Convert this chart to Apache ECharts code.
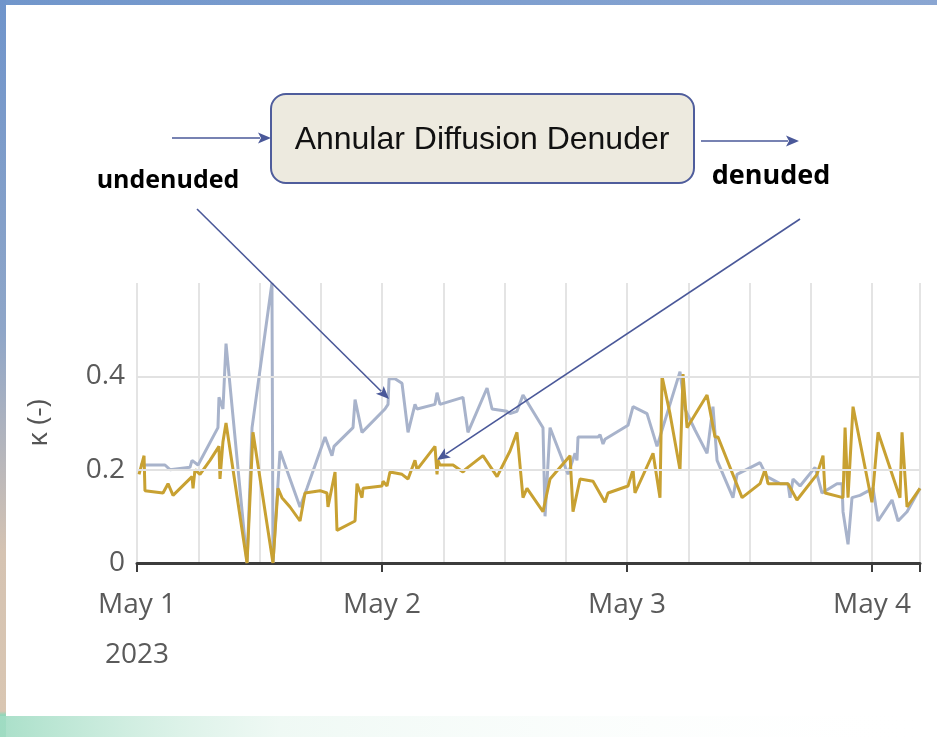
<!DOCTYPE html>
<html>
<head>
<meta charset="utf-8">
<script src="https://cdn.jsdelivr.net/npm/echarts@6/dist/echarts.min.js"></script>
<style>
  html, body { margin: 0; padding: 0; background: #ffffff; }
  #chart { width: 937px; height: 737px; }
</style>
</head>
<body>
<div id="chart"></div>
<script>
// Hours since 2023-05-01 00:00 and kappa values for each inlet.
const undenudedHours = [0.29, 2.74, 3.23, 5.19, 5.39, 5.98, 7.93, 8.03, 8.42, 8.72, 10.78, 11.27, 13.22, 13.32,
  14.01, 15.97, 16.65, 18.42, 19.10, 19.30, 21.16, 21.36, 22.04, 24.29, 24.59, 24.69, 25.27, 25.96, 26.55, 27.23,
  27.43, 29.19, 29.39, 29.68, 31.93, 32.42, 34.29, 34.78, 36.24, 36.54, 37.22, 37.81, 39.77, 39.97, 40.46, 42.22,
  42.91, 43.10, 43.20, 45.16, 45.36, 45.65, 45.84, 48.10, 48.59, 49.96, 50.94, 53.19, 53.68, 54.66, 55.84, 56.42,
  56.82, 58.38, 58.78, 61.03, 61.71, 62.99, 63.77, 63.97, 64.26, 64.95, 66.42, 67.10, 68.57, 69.06, 69.16, 69.65,
  70.04, 70.82, 72.10, 72.59, 73.96, 74.55, 75.43, 76.70];
const undenudedKappa = [0.21, 0.21, 0.2, 0.205, 0.22, 0.21, 0.29, 0.355, 0.33, 0.47, 0.0, 0.29, 0.6, 0.0,
  0.24, 0.12, 0.16, 0.27, 0.23, 0.25, 0.29, 0.35, 0.28, 0.33, 0.34, 0.395, 0.395, 0.385, 0.28, 0.34,
  0.33, 0.34, 0.365, 0.34, 0.355, 0.28, 0.375, 0.33, 0.325, 0.32, 0.325, 0.36, 0.29, 0.1, 0.29, 0.19,
  0.235, 0.22, 0.27, 0.27, 0.275, 0.255, 0.265, 0.295, 0.335, 0.32, 0.25, 0.41, 0.33, 0.285, 0.235, 0.335,
  0.22, 0.14, 0.19, 0.215, 0.185, 0.17, 0.17, 0.14, 0.18, 0.165, 0.205, 0.15, 0.17, 0.17, 0.11, 0.04,
  0.14, 0.145, 0.16, 0.09, 0.135, 0.09, 0.11, 0.16];

const denudedHours = [0.20, 0.69, 0.78, 2.55, 3.04, 3.53, 5.39, 5.49, 5.68, 6.17, 7.15, 8.03, 8.13, 8.42, 8.72,
  10.78, 11.36, 13.32, 13.81, 14.20, 14.99, 15.97, 16.46, 17.93, 18.61, 18.71, 19.40, 19.59, 21.36, 21.55, 22.04,
  22.14, 24.00, 24.10, 24.49, 24.78, 25.96, 26.55, 27.23, 27.43, 29.19, 29.39, 29.49, 29.68, 30.96, 31.93, 32.13,
  33.89, 35.27, 36.54, 37.22, 37.81, 38.20, 39.77, 40.46, 42.42, 42.71, 43.40, 44.67, 45.84, 46.14, 48.10, 48.59,
  48.78, 50.55, 51.23, 51.43, 52.21, 53.19, 53.49, 53.88, 55.84, 56.62, 56.91, 59.27, 61.03, 61.52, 61.81, 63.77,
  64.65, 66.61, 67.20, 67.40, 69.16, 69.36, 69.65, 70.14, 71.99, 72.59, 74.74, 74.94, 75.43, 76.70];
const denudedKappa = [0.19, 0.23, 0.155, 0.15, 0.17, 0.145, 0.185, 0.16, 0.2, 0.19, 0.22, 0.25, 0.18, 0.26, 0.30,
  0.0, 0.28, 0.0, 0.16, 0.14, 0.12, 0.09, 0.15, 0.155, 0.15, 0.12, 0.195, 0.07, 0.09, 0.17, 0.14,
  0.16, 0.165, 0.175, 0.165, 0.195, 0.19, 0.18, 0.22, 0.2, 0.25, 0.19, 0.22, 0.21, 0.21, 0.195, 0.2,
  0.23, 0.185, 0.24, 0.28, 0.14, 0.16, 0.11, 0.18, 0.23, 0.11, 0.18, 0.175, 0.13, 0.15, 0.165, 0.2,
  0.15, 0.235, 0.14, 0.4, 0.32, 0.2, 0.405, 0.29, 0.36, 0.27, 0.27, 0.14, 0.17, 0.2, 0.17, 0.17,
  0.135, 0.19, 0.23, 0.15, 0.14, 0.29, 0.14, 0.335, 0.13, 0.28, 0.14, 0.28, 0.12, 0.16];

// Day tick labels (every 24 h) and value tick labels.
const dayLabels = ['May 1\n2023', 'May 2', 'May 3', 'May 4'];
const kappaTicks = [0, 0.2, 0.4];
const endHour = 76.7;

const zip = (xs, ys) => xs.map((x, i) => [x, ys[i]]);

const ARROW = '#4A5899';

// Straight connector with a filled head at (x2, y2).
function arrow(x1, y1, x2, y2) {
  const len = 13, half = 5.5;
  const dx = x2 - x1, dy = y2 - y1, d = Math.hypot(dx, dy);
  const ux = dx / d, uy = dy / d;
  const bx = x2 - ux * len, by = y2 - uy * len;
  return [
    { type: 'line', shape: { x1, y1, x2: bx + ux * 2, y2: by + uy * 2 },
      style: { stroke: ARROW, lineWidth: 1.6 }, z: 10 },
    { type: 'polygon',
      shape: { points: [[x2, y2], [bx - uy * half, by + ux * half], [bx + ux * 3, by + uy * 3], [bx + uy * half, by - ux * half]] },
      style: { fill: ARROW }, z: 10 }
  ];
}

const chart = echarts.init(document.getElementById('chart'), null, { renderer: 'canvas' });

const labelFont = { fontFamily: 'Open Sans', fontSize: 28, color: '#5a5a5a' };

chart.setOption({
  animation: false,
  backgroundColor: '#ffffff',
  grid: { left: 137, right: 17, top: 283, bottom: 174, containLabel: false },
  xAxis: [
    {
      type: 'value', min: 0, max: endHour, interval: 24,
      axisLine: { show: true, onZero: false, lineStyle: { color: '#3c3c3c', width: 3 } },
      axisTick: { show: true, length: 9, lineStyle: { color: '#3c3c3c', width: 2 } },
      splitLine: { show: false },
      axisLabel: Object.assign({}, labelFont, {
        margin: 17, lineHeight: 50,
        formatter: v => {
          const i = Math.round(v / 24);
          return (Math.abs(v - i * 24) < 1e-6 && dayLabels[i]) ? dayLabels[i] : '';
        }
      })
    },
    {
      // 6-hourly vertical grid lines
      type: 'value', min: 0, max: endHour, interval: 6, position: 'bottom',
      axisLine: { show: false }, axisTick: { show: false }, axisLabel: { show: false },
      splitLine: { show: true, lineStyle: { color: '#e4e4e4', width: 2 } }
    }
  ],
  yAxis: {
    type: 'value', min: 0, max: 0.6, interval: 0.2,
    name: 'κ (-)', nameLocation: 'middle', nameGap: 84, nameRotate: 90,
    nameTextStyle: { fontFamily: 'Open Sans', fontSize: 28, color: '#555555' },
    axisLine: { show: false }, axisTick: { show: false },
    splitLine: { show: false },
    axisLabel: Object.assign({}, labelFont, {
      margin: 12,
      formatter: v => {
        const t = kappaTicks.find(k => Math.abs(k - v) < 1e-6);
        return t === undefined ? '' : String(t);
      }
    })
  },
  series: [
    {
      name: 'undenuded', type: 'line', xAxisIndex: 0,
      data: zip(undenudedHours, undenudedKappa),
      showSymbol: false, clip: true,
      lineStyle: { color: '#A8B3CB', width: 3 },
      z: 3,
      markLine: {
        silent: true, symbol: 'none', label: { show: false },
        lineStyle: { color: '#e2e2e2', width: 2, type: 'solid' },
        data: kappaTicks.filter(k => k > 0).map(k => ({ yAxis: k }))
      }
    },
    {
      name: 'denuded', type: 'line', xAxisIndex: 0,
      data: zip(denudedHours, denudedKappa),
      showSymbol: false, clip: true,
      lineStyle: { color: '#C8A132', width: 3 },
      z: 4
    }
  ],
  graphic: [
    // slide frame
    { type: 'rect', shape: { x: 0, y: 0, width: 937, height: 5 },
      style: { fill: new echarts.graphic.LinearGradient(0, 0, 1, 0, [
        { offset: 0, color: '#7196CB' }, { offset: 1, color: '#8AA6D2' }]) }, z: 1 },
    { type: 'rect', shape: { x: 0, y: 0, width: 6, height: 737 },
      style: { fill: new echarts.graphic.LinearGradient(0, 0, 0, 1, [
        { offset: 0, color: '#6F94CB' }, { offset: 0.45, color: '#8FA6C8' },
        { offset: 0.75, color: '#D5C3B2' }, { offset: 0.965, color: '#D9C6B2' },
        { offset: 0.97, color: '#92D6B9' }, { offset: 1, color: '#92D6B9' }]) }, z: 1 },
    { type: 'rect', shape: { x: 0, y: 716, width: 937, height: 21 },
      style: { fill: new echarts.graphic.LinearGradient(0, 0, 1, 0, [
        { offset: 0, color: 'rgba(160,220,195,0.9)' }, { offset: 0.3, color: 'rgba(215,240,228,0.4)' },
        { offset: 1, color: 'rgba(255,255,255,0)' }]) }, z: 1 },

    // instrument box
    { type: 'rect', shape: { x: 271, y: 94, width: 423, height: 89, r: 15 },
      style: { fill: '#EDEADF', stroke: '#4F5D9C', lineWidth: 2 }, z: 10 },
    { type: 'text', x: 482, y: 140, z: 11,
      style: { text: 'Annular Diffusion Denuder', fontFamily: 'Liberation Sans', fontSize: 32,
        fill: '#111111', align: 'center', verticalAlign: 'middle' } },

    { type: 'text', x: 168, y: 181, z: 11,
      style: { text: 'undenuded', fontFamily: 'Open Sans', fontWeight: 'bold', fontSize: 25,
        fill: '#000000', align: 'center', verticalAlign: 'middle' } },
    { type: 'text', x: 771, y: 176, z: 11,
      style: { text: 'denuded', fontFamily: 'Open Sans', fontWeight: 'bold', fontSize: 27,
        fill: '#000000', align: 'center', verticalAlign: 'middle' } },

    ...arrow(172, 138, 271, 138),
    ...arrow(701, 141, 799, 141),
    ...arrow(197, 209, 389, 399),
    ...arrow(800, 219, 437, 460)
  ]
});
</script>
</body>
</html>
